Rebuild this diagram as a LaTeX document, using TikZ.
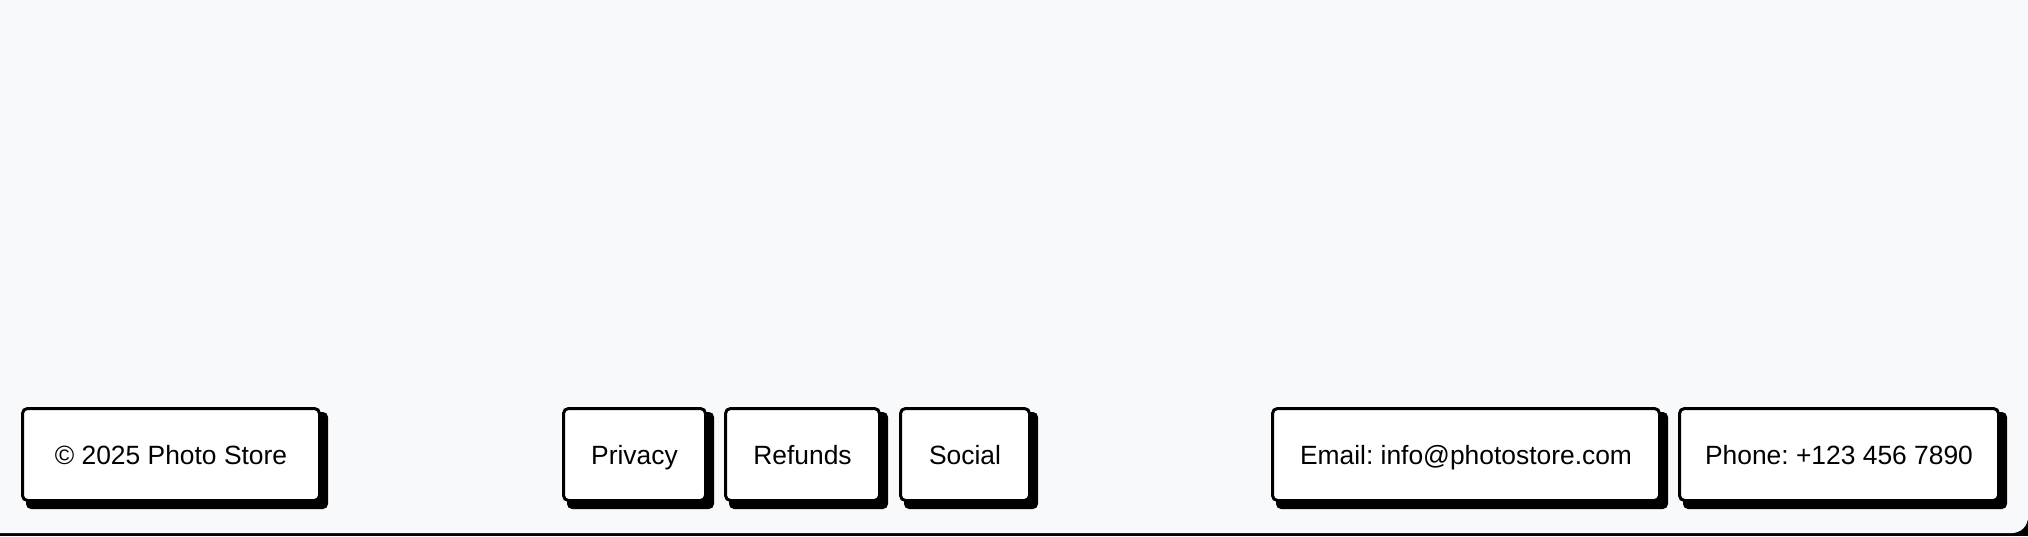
\documentclass[tikz,border=0pt]{standalone}
\usepackage{fontspec}
\usepackage{xcolor}
\usetikzlibrary{backgrounds}
\setmainfont{Liberation Sans}
\definecolor{panelbg}{RGB}{248,249,251}
\frenchspacing

\begin{document}
\begin{tikzpicture}[x=0.5pt, y=0.5pt,
    footbox/.style={draw=black, line width=1.5pt, fill=white, rounded corners=2.5pt,
        minimum height=46pt, inner sep=0pt, text height=11pt, text depth=1.4pt,
        font=\fontsize{13.2pt}{16pt}\selectfont},
    boxshadow/.style={fill=black, rounded corners=2.5pt}]
    \useasboundingbox (0,0) rectangle (2028,536);

    % Footer items
    \node[footbox, minimum width=148.5pt] (copy) at (171,81.5) {\textcopyright{} 2025 Photo Store};
    \node[footbox, minimum width=71pt] (privacy) at (634.5,81.5) {Privacy};
    \node[footbox, minimum width=77pt] (refunds) at (802.5,81.5) {Refunds};
    \node[footbox, minimum width=64.5pt] (social) at (965,81.5) {Social};
    \node[footbox, minimum width=193.5pt] (email) at (1466,81.5) {Email: info@photostore.com};
    \node[footbox, minimum width=159.5pt] (phone) at (1839,81.5) {Phone: +123 456 7890};

    \begin{scope}[on background layer]
        % Page background with the dark strip under it
        \fill[black] (0,0) rectangle (2028,536);
        \fill[panelbg, rounded corners=8] (-20,3) rectangle (2028,560);

        % Hard shadows behind the boxes
        \fill[boxshadow] ([shift={(5,-7)}]copy.south west) rectangle ([shift={(7,-5)}]copy.north east);
        \fill[boxshadow] ([shift={(5,-7)}]privacy.south west) rectangle ([shift={(7,-5)}]privacy.north east);
        \fill[boxshadow] ([shift={(5,-7)}]refunds.south west) rectangle ([shift={(7,-5)}]refunds.north east);
        \fill[boxshadow] ([shift={(5,-7)}]social.south west) rectangle ([shift={(7,-5)}]social.north east);
        \fill[boxshadow] ([shift={(5,-7)}]email.south west) rectangle ([shift={(7,-5)}]email.north east);
        \fill[boxshadow] ([shift={(5,-7)}]phone.south west) rectangle ([shift={(7,-5)}]phone.north east);
    \end{scope}
\end{tikzpicture}
\end{document}
